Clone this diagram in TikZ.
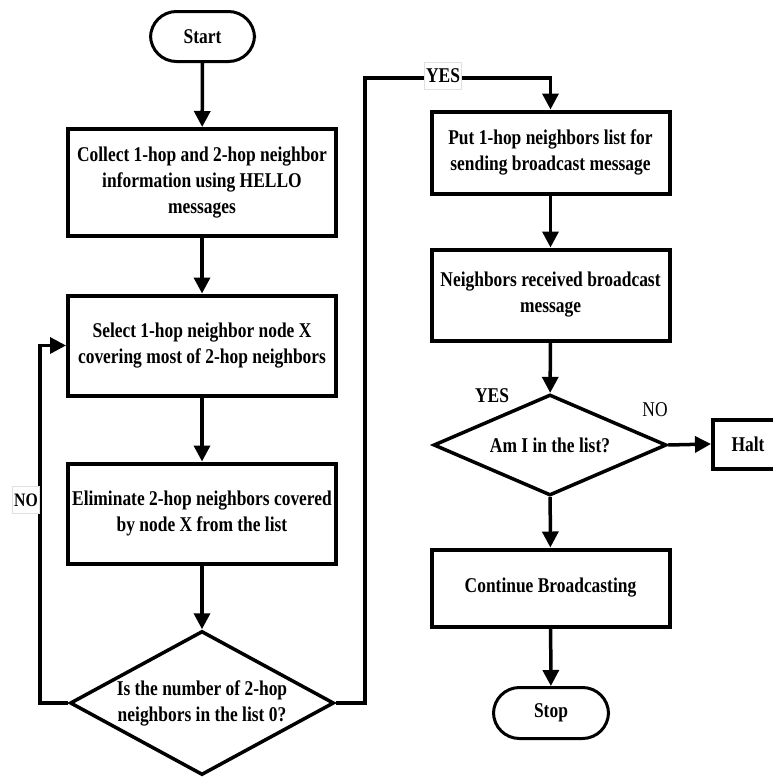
\documentclass[tikz,border=0pt]{standalone}
\usepackage{fontspec}
\setmainfont{Liberation Serif}[FakeStretch=0.83]
\usetikzlibrary{arrows.meta,shapes.geometric}
\begin{document}
\begin{tikzpicture}[x=1pt,y=-1pt,
  every node/.style={font=\fontsize{21}{26}\selectfont\bfseries, align=center, inner sep=0pt},
  procbox/.style={draw, rectangle, line width=4pt},
  terminal/.style={draw, rectangle, line width=3pt, rounded corners=26pt},
  decision/.style={draw, diamond, line width=3.5pt},
  arr/.style={line width=3.5pt, -{Triangle[length=16pt,width=16pt]}},
  tag/.style={fill=white, draw=black!12, line width=0.6pt, inner sep=1.5pt}
]
\useasboundingbox (0,0) rectangle (772,777);

% left column
\node[terminal, minimum width=104pt, minimum height=50pt] (start) at (202.5,36.5) {Start};
\node[procbox, minimum width=268pt, minimum height=107pt] (collect) at (202,182.5)
  {Collect 1-hop and 2-hop neighbor\\information using HELLO\\messages};
\node[procbox, minimum width=268pt, minimum height=100pt] (select) at (202,345.5)
  {Select 1-hop neighbor node X\\covering most of 2-hop neighbors};
\node[procbox, minimum width=268pt, minimum height=100pt] (elim) at (202,513.5)
  {Eliminate 2-hop neighbors covered\\by node X from the list};
\node[decision, minimum width=264pt, minimum height=144pt, aspect=1.83] (dec1) at (202,703)
  {Is the number of 2-hop\\neighbors in the list 0?};

% right column
\node[procbox, minimum width=238pt, minimum height=82pt] (put) at (550.5,152.5)
  {Put 1-hop neighbors list for\\sending broadcast message};
\node[procbox, minimum width=238pt, minimum height=91pt] (recv) at (550.5,295)
  {Neighbors received broadcast\\message};
\node[decision, minimum width=233pt, minimum height=101pt, aspect=2.27] (dec2) at (550,445)
  {Am I in the list?};
\node[procbox, minimum width=70pt, minimum height=49pt] (halt) at (748,444) {Halt};
\node[procbox, minimum width=238pt, minimum height=77pt] (cont) at (550.5,588)
  {Continue Broadcasting};
\node[terminal, minimum width=115pt, minimum height=51pt] (stop) at (551,713) {Stop};

% bend points of the two loops
\coordinate (loopL) at (40,0);
\coordinate (topR) at (365,78);

% connectors
\draw[arr] (start) -- (collect);
\draw[arr] (collect) -- (select);
\draw[arr] (select) -- (elim);
\draw[arr] (elim) -- (dec1);
\draw[arr] (dec1.west) -- (dec1.west -| loopL) |- (select.west);
\draw[arr] (dec1.east) -| (topR) -| (put.north);
\draw[arr] (put) -- (recv);
\draw[arr] (recv) -- (dec2);
\draw[arr] (dec2.east) -- (halt.west);
\draw[arr] (dec2) -- (cont);
\draw[arr] (cont) -- (stop);

% branch labels
\node[tag, font=\fontsize{19}{22}\selectfont\bfseries, minimum height=27pt] (noL) at (26,500) {NO};
\node[tag, minimum height=27pt] (yesT) at (443,76) {YES};
\node (yesD) at (492,396) {YES};
\node[font=\fontsize{21}{26}\selectfont] (noD) at (655,410) {NO};
\end{tikzpicture}
\end{document}
